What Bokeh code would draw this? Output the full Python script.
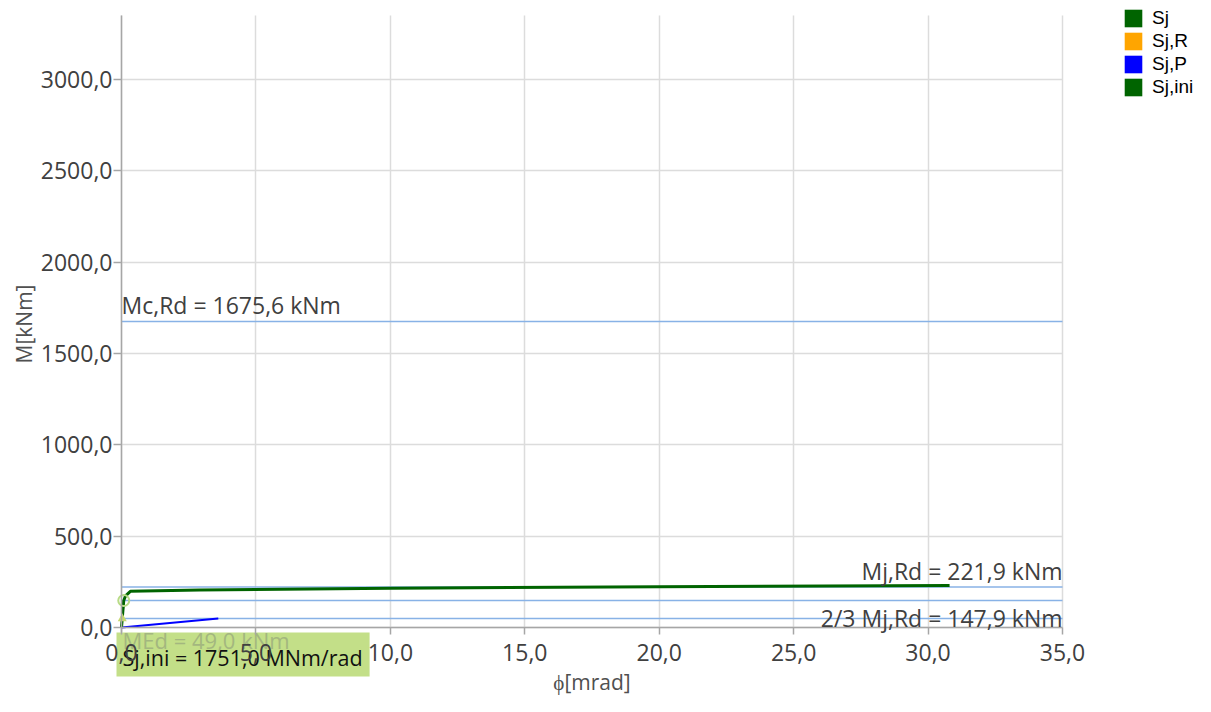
from bokeh.plotting import figure
from bokeh.models import Label, Legend, LegendItem, FixedTicker, Range1d
from bokeh.embed import file_html
from bokeh.resources import INLINE

# ---- data ----
phi_sj = [0.0, 0.084, 0.15, 0.33, 2.9, 10.0, 20.0, 30.8]
m_sj = [0.0, 147.9, 173.0, 198.0, 206.0, 215.0, 223.0, 230.0]
phi_ini = [0.0, 0.084]
m_ini = [0.0, 147.9]
phi_p = [0.0, 3.6]
m_p = [0.0, 49.0]
phi_med = [0.028]
m_med = [49.0]
ref_names = ["Mc,Rd", "Mj,Rd", "2/3 Mj,Rd", "MEd"]
ref_values = [1675.6, 221.9, 147.9, 49.0]
sj_ini_value = 1751.0
x_ticks = [0, 5, 10, 15, 20, 25, 30, 35]
y_ticks = [0, 500, 1000, 1500, 2000, 2500, 3000]
y_axis_top = 3351.2
legend_labels = ["Sj", "Sj,R", "Sj,P", "Sj,ini"]
legend_colors = ["#006400", "#ffa500", "#0000ff", "#006400"]


def fmt(v):
    return f"{v:.1f}".replace(".", ",")


FONT = "Open Sans"
TXT = "#404040"

W, H = 1195, 696
X0_PX = 121           # px of x = 0
X1_PX = 1062          # px of x = 35
Y0_PX = 627           # px of y = 0
YTOP_PX = 15          # px of y_axis_top

x0, x1 = x_ticks[0], x_ticks[-1]
sx = (X1_PX - X0_PX) / (x1 - x0)
sy = (Y0_PX - YTOP_PX) / y_axis_top
x_range = Range1d(-X0_PX / sx, (W - X0_PX) / sx)
y_range = Range1d(-(H - Y0_PX) / sy, Y0_PX / sy)

p = figure(width=W, height=H, x_range=x_range, y_range=y_range,
           output_backend="svg", toolbar_location=None,
           min_border_left=0, min_border_right=0, min_border_top=0, min_border_bottom=0)
p.outline_line_color = None

p.xaxis.ticker = FixedTicker(ticks=x_ticks)
p.yaxis.ticker = FixedTicker(ticks=y_ticks)
p.xaxis.major_label_overrides = {t: fmt(t) for t in x_ticks}
p.yaxis.major_label_overrides = {t: fmt(t) for t in y_ticks}
p.xaxis.axis_label = "ϕ[mrad]"
p.yaxis.axis_label = "M[kNm]"
p.xaxis.fixed_location = 0
p.yaxis.fixed_location = 0
p.xaxis.bounds = (x0, x1)
p.yaxis.bounds = (-25, y_axis_top)
for ax in (p.xaxis[0], p.yaxis[0]):
    ax.axis_line_color = "#a6a6a6"
    ax.axis_line_width = 1.5
    ax.major_tick_line_color = "#a6a6a6"
    ax.major_tick_line_width = 1.5
    ax.minor_tick_line_color = None
    ax.major_tick_out = 8
    ax.major_tick_in = 0
    ax.major_label_text_font = FONT
    ax.major_label_text_font_size = "23px"
    ax.major_label_text_color = TXT
    ax.axis_label_text_font = FONT
    ax.axis_label_text_font_size = "21px"
    ax.axis_label_text_font_style = "normal"
    ax.axis_label_text_color = "#505050"
p.xaxis.major_tick_out = 7
p.xaxis.major_label_standoff = 9
p.xaxis.axis_label_standoff = 4
p.yaxis.major_label_standoff = 1
p.yaxis.axis_label_standoff = 0
p.grid.grid_line_color = "#dcdcdc"
p.grid.grid_line_width = 1.5
p.xgrid.cross_bounds = (0, y_axis_top)
p.ygrid.cross_bounds = (x0, x1)

# Sj,ini box label (drawn under the axis tick labels)
p.add_layout(Label(x=0, y=0, text=f"Sj,ini = {fmt(sj_ini_value)} MNm/rad",
                   text_font=FONT, text_font_size="21.5px", text_color="#111111",
                   text_baseline="middle", text_align="left", y_offset=-27, x_offset=-5,
                   background_fill_color="#c3df88",
                   padding=dict(top=10, right=7, bottom=5, left=6), level="glyph"))
p.add_layout(Label(x=0, y=ref_values[3], text=f"{ref_names[3]} = {fmt(ref_values[3])} kNm",
                   text_font=FONT, text_font_size="22px", text_color="#a3b77f",
                   text_baseline="middle", text_align="left", y_offset=-21, x_offset=1,
                   level="glyph"))

# reference lines
p.segment(x0=[x0] * len(ref_values), y0=ref_values, x1=[x1] * len(ref_values), y1=ref_values,
          line_color="#88b2e6", line_width=1.5)

# curves
p.line(phi_p, m_p, line_color="#0000ff", line_width=2)
p.line(phi_sj, m_sj, line_color="#006400", line_width=3)
p.line(phi_ini, m_ini, line_color="#006400", line_width=2)
p.scatter(phi_ini[-1:], m_ini[-1:], marker="circle", size=11, fill_color=None,
          line_color="#b8db86", line_width=2)
p.scatter(phi_med, m_med, marker="triangle", size=9, fill_color="#c6d86e",
          line_color=None)

# labels
p.add_layout(Label(x=0, y=ref_values[0], text=f"{ref_names[0]} = {fmt(ref_values[0])} kNm",
                   text_font=FONT, text_font_size="23px", text_color=TXT,
                   text_baseline="middle", text_align="left", y_offset=17))
p.add_layout(Label(x=x1, y=ref_values[1], text=f"{ref_names[1]} = {fmt(ref_values[1])} kNm",
                   text_font=FONT, text_font_size="23px", text_color=TXT,
                   text_baseline="middle", text_align="right", y_offset=16))
p.add_layout(Label(x=x1, y=ref_values[2], text=f"{ref_names[2]} = {fmt(ref_values[2])} kNm",
                   text_font=FONT, text_font_size="23px", text_color=TXT,
                   text_baseline="middle", text_align="right", y_offset=-18))

# legend (square swatches)
items = []
for lab, col in zip(legend_labels, legend_colors):
    r = p.quad(left=[x1], right=[x1], top=[0], bottom=[0], fill_color=col, line_color=None)
    items.append(LegendItem(label=lab, renderers=[r]))
legend = Legend(items=items, location=(1122, 598), orientation="vertical",
                glyph_width=22, glyph_height=22, label_height=22, spacing=1,
                padding=5, margin=0, label_standoff=8,
                label_text_font="Liberation Sans", label_text_font_size="19px",
                label_text_color="#000000", border_line_color=None,
                background_fill_alpha=0)
p.add_layout(legend)

open("out.html", "w").write(file_html(p, INLINE))
